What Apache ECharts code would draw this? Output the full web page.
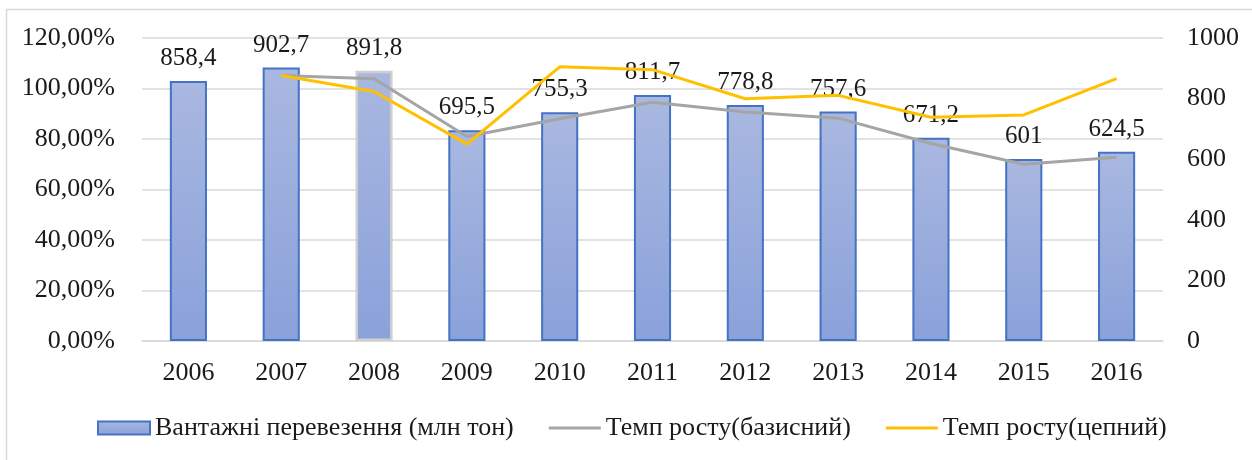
<!DOCTYPE html>
<html>
<head>
<meta charset="utf-8">
<script src="https://cdn.jsdelivr.net/npm/echarts@6/dist/echarts.min.js"></script>
<style>
  html, body { margin: 0; padding: 0; background: #fff; }
  #chart { width: 1252px; height: 460px; }
</style>
</head>
<body>
<div id="chart"></div>
<script>
const years = ['2006', '2007', '2008', '2009', '2010', '2011', '2012', '2013', '2014', '2015', '2016'];
const freight = [858.4, 902.7, 891.8, 695.5, 755.3, 811.7, 778.8, 757.6, 671.2, 601, 624.5];
const baseRate = [null, 105.16, 103.89, 81.02, 87.99, 94.56, 90.73, 88.26, 78.19, 70.01, 72.75];
const chainRate = [null, 105.16, 98.79, 77.99, 108.6, 107.47, 95.95, 97.28, 88.6, 89.54, 103.91];
const names = ['Вантажні перевезення (млн тон)', 'Темп росту(базисний)', 'Темп росту(цепний)'];

const font = '"Liberation Serif", "DejaVu Serif", serif';
const textColor = '#1a1a1a';
const gridColor = '#d9d9d9';
// thin line icon for the legend (move-tos keep the 52x13 box)
const lineIcon = 'path://M0,0M52,13M0,5H52V8H0Z';

const barFill = new echarts.graphic.LinearGradient(0, 0, 0, 1, [
  { offset: 0, color: '#a9b8e0' },
  { offset: 1, color: '#8aa1da' }
]);

const chart = echarts.init(document.getElementById('chart'));

chart.setOption({
  backgroundColor: '#fff',
  animation: false,
  textStyle: { fontFamily: font },
  graphic: [{
    type: 'rect',
    silent: true,
    shape: { x: 6.5, y: 9.5, width: 1300, height: 500 },
    style: { fill: 'none', stroke: gridColor, lineWidth: 1.5 }
  }],
  legend: {
    left: 97,
    top: 415,
    padding: 0,
    itemWidth: 52,
    itemHeight: 13,
    itemGap: 35,
    textStyle: { fontFamily: font, fontSize: 26, color: textColor },
    data: [
      { name: names[0], icon: 'rect' },
      { name: names[1], icon: lineIcon },
      { name: names[2], icon: lineIcon }
    ]
  },
  grid: { left: 142, right: 89, top: 38, bottom: 119 },
  xAxis: {
    type: 'category',
    data: years,
    axisLine: { lineStyle: { color: gridColor, width: 1.5 } },
    axisTick: { show: false },
    axisLabel: { fontFamily: font, fontSize: 26, color: textColor, margin: 19 }
  },
  yAxis: [
    {
      type: 'value',
      min: 0,
      max: 120,
      interval: 20,
      axisLine: { show: false },
      axisTick: { show: false },
      axisLabel: {
        fontFamily: font, fontSize: 26, color: textColor, margin: 27,
        formatter: v => v.toFixed(2).replace('.', ',') + '%'
      },
      splitLine: { lineStyle: { color: gridColor, width: 1.5 } }
    },
    {
      type: 'value',
      min: 0,
      max: 1000,
      interval: 200,
      axisLine: { show: false },
      axisTick: { show: false },
      axisLabel: {
        fontFamily: font, fontSize: 26, color: textColor, margin: 24,
        formatter: v => String(v)
      },
      splitLine: { show: false }
    }
  ],
  series: [
    {
      name: names[0],
      type: 'bar',
      yAxisIndex: 1,
      barWidth: '40%',
      data: freight.map((v, i) => i === 2
        ? { value: v, itemStyle: { borderColor: '#cfcfcf', borderWidth: 2.5 } }
        : v),
      itemStyle: { color: barFill, borderColor: '#4472c4', borderWidth: 2 },
      label: {
        show: true,
        position: 'top',
        distance: 10,
        fontFamily: font,
        fontSize: 25,
        color: textColor,
        formatter: p => String(p.value).replace('.', ',')
      }
    },
    {
      name: names[1],
      type: 'line',
      yAxisIndex: 0,
      data: baseRate,
      symbol: 'none',
      lineStyle: { color: '#a5a5a5', width: 3 },
      itemStyle: { color: '#a5a5a5' }
    },
    {
      name: names[2],
      type: 'line',
      yAxisIndex: 0,
      data: chainRate,
      symbol: 'none',
      lineStyle: { color: '#ffc000', width: 3 },
      itemStyle: { color: '#ffc000' }
    }
  ]
});
</script>
</body>
</html>
